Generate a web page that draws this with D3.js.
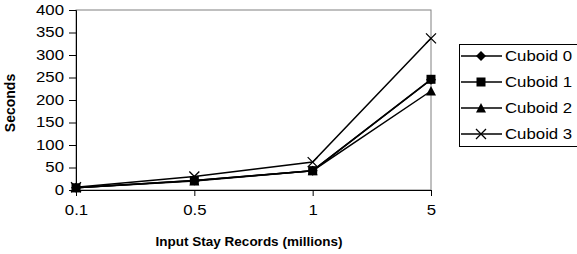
<!DOCTYPE html>
<html>
<head>
<meta charset="utf-8">
<script src="https://cdn.jsdelivr.net/npm/d3@7"></script>
<style>
  body { margin: 0; background: #fff; }
  svg { display: block; font-family: Arial, "Liberation Sans", sans-serif; }
</style>
</head>
<body>
<div id="chart"></div>
<script>
  var categories = ['0.1', '0.5', '1', '5'];
  var yTicks = [0, 50, 100, 150, 200, 250, 300, 350, 400];
  var seriesNames = ['Cuboid 0', 'Cuboid 1', 'Cuboid 2', 'Cuboid 3'];
  var cuboid0 = [5, 21, 43, 245];
  var cuboid1 = [5, 21, 43, 246];
  var cuboid2 = [5, 20, 43, 220];
  var cuboid3 = [6, 30, 62, 337];
  var markers = ['diamond', 'square', 'triangle', 'cross'];

  (function () {
    var W = 577, H = 254;
    var plotLeft = 76, plotRight = 431, plotTop = 10, plotBottom = 190;
    var stretch = 1.2;

    var svg = d3.select('#chart').append('svg').attr('width', W).attr('height', H);

    var x = d3.scalePoint().domain(categories).range([plotLeft, plotRight]);
    var y = d3.scaleLinear().domain([0, 400]).range([plotBottom, plotTop]);

    // plot frame (top + right in gray)
    svg.append('rect')
      .attr('x', plotLeft).attr('y', plotTop)
      .attr('width', plotRight - plotLeft).attr('height', plotBottom - plotTop)
      .attr('fill', 'none').attr('stroke', '#808080').attr('stroke-width', 1);

    // y axis
    var yAxis = svg.append('g')
      .attr('transform', 'translate(' + plotLeft + ',0)')
      .call(d3.axisLeft(y).tickValues(yTicks).tickSize(7).tickPadding(5));
    yAxis.select('.domain').attr('stroke', '#000');
    yAxis.selectAll('.tick line').attr('stroke', '#000');
    yAxis.selectAll('.tick text')
      .attr('font-size', 14).attr('fill', '#000')
      .attr('transform', 'translate(-12,0) scale(' + stretch + ',1) translate(12,0)');

    // x axis
    var xAxis = svg.append('g')
      .attr('transform', 'translate(0,' + plotBottom + ')')
      .call(d3.axisBottom(x).tickSize(6).tickPadding(9));
    xAxis.select('.domain').attr('stroke', '#000');
    xAxis.selectAll('.tick line').attr('stroke', '#000');
    xAxis.selectAll('.tick text')
      .attr('font-size', 14).attr('fill', '#000')
      .attr('transform', 'scale(' + stretch + ',1)');

    // axis titles
    svg.append('text')
      .attr('transform', 'translate(249,246)')
      .attr('text-anchor', 'middle')
      .attr('font-size', 13.5).attr('font-weight', 'bold')
      .text('Input Stay Records (millions)');

    svg.append('text')
      .attr('transform', 'translate(15,103) rotate(-90)')
      .attr('text-anchor', 'middle')
      .attr('font-size', 14).attr('font-weight', 'bold')
      .text('Seconds');

    var series = [cuboid0, cuboid1, cuboid2, cuboid3];

    var line = d3.line()
      .x(function (d, i) { return x(categories[i]); })
      .y(function (d) { return y(d); });

    function drawMarker(g, type) {
      if (type === 'diamond') {
        g.append('path').attr('d', 'M0,-5L5,0L0,5L-5,0Z').attr('fill', '#000');
      } else if (type === 'square') {
        g.append('rect').attr('x', -4.5).attr('y', -4.5).attr('width', 9).attr('height', 9).attr('fill', '#000');
      } else if (type === 'triangle') {
        g.append('path').attr('d', 'M0,-5L5,4.5L-5,4.5Z').attr('fill', '#000');
      } else {
        g.append('path').attr('d', 'M-5,-5L5,5M-5,5L5,-5').attr('stroke', '#000').attr('stroke-width', 1.3).attr('fill', 'none');
      }
    }

    series.forEach(function (vals) {
      svg.append('path')
        .datum(vals)
        .attr('d', line)
        .attr('fill', 'none')
        .attr('stroke', '#000')
        .attr('stroke-width', 1.5);
    });
    series.forEach(function (vals, s) {
      vals.forEach(function (v, i) {
        var g = svg.append('g').attr('transform', 'translate(' + x(categories[i]) + ',' + y(v) + ')');
        drawMarker(g, markers[s]);
      });
    });

    // legend
    var lg = svg.append('g');
    lg.append('rect')
      .attr('x', 459.5).attr('y', 44.5)
      .attr('width', 130).attr('height', 102)
      .attr('fill', '#fff').attr('stroke', '#000').attr('stroke-width', 1);
    var rowY = d3.scalePoint().domain(seriesNames).range([56, 134]);
    seriesNames.forEach(function (name, s) {
      var cy = rowY(name);
      lg.append('line')
        .attr('x1', 461).attr('x2', 502).attr('y1', cy).attr('y2', cy)
        .attr('stroke', '#000').attr('stroke-width', 1.5);
      var g = lg.append('g').attr('transform', 'translate(481,' + cy + ')');
      drawMarker(g, markers[s]);
      lg.append('text')
        .attr('transform', 'translate(505,' + (cy + 5) + ') scale(' + stretch + ',1)')
        .attr('font-size', 14)
        .text(name);
    });
  })();
</script>
</body>
</html>
